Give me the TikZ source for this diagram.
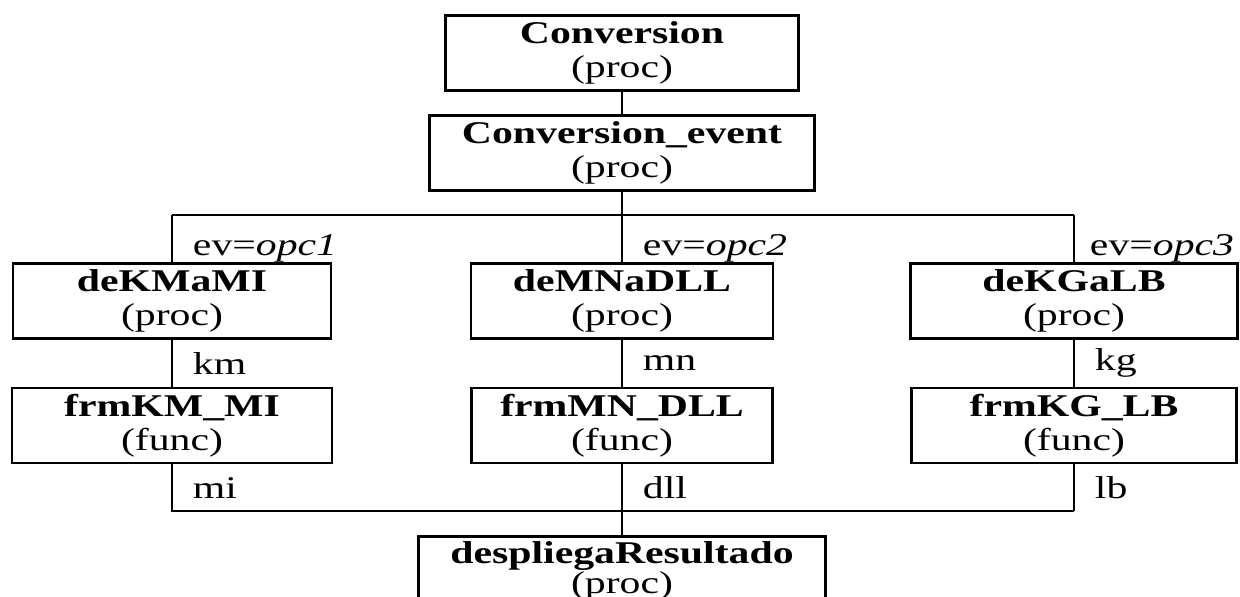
\documentclass[tikz,border=0pt]{standalone}
\usepackage{fontspec}
\setmainfont{Liberation Serif}[FakeStretch=1.32]
\usepackage{tikz}
\usetikzlibrary{positioning}
\tikzset{
    procbox/.style={
        rectangle, draw=black, line width=1.6pt,
        minimum width=#1, minimum height=1.5cm, inner sep=0pt,
        font=\fontsize{18}{19.5}\selectfont, align=center
    },
    procbox/.default=6.4cm,
    wire/.style={
        line width=1.1pt, color=black
    },
    lbl/.style={
        anchor=west, inner sep=0pt, xshift=0.4cm,
        font=\fontsize{18}{19.5}\selectfont
    },
}

\begin{document}
\begin{tikzpicture}

    \useasboundingbox (0,0) rectangle (24.8,-11.92);
    \clip (0,0) rectangle (24.8,-11.92);

    % Top: main procedures
    \node[procbox=7.06cm] (conv) at (12.44,-1.06) {\textbf{Conversion}\\(proc)};
    \node[procbox=7.7cm, below=0.44cm of conv] (convev) {\textbf{Conversion\_event}\\(proc)};

    % Middle column
    \node[procbox=6.04cm, below=1.4cm of convev] (demn) {\textbf{deMNaDLL}\\(proc)};
    \node[procbox=6.02cm, below=0.94cm of demn] (frmmn) {\textbf{frmMN\_DLL}\\(func)};

    % Left column
    \node[procbox=6.36cm] (dekm) at ([xshift=-9cm]demn) {\textbf{deKMaMI}\\(proc)};
    \node[procbox=6.4cm] (frmkm) at ([xshift=-9cm]frmmn) {\textbf{frmKM\_MI}\\(func)};

    % Right column
    \node[procbox=6.54cm] (dekg) at ([xshift=9.04cm]demn) {\textbf{deKGaLB}\\(proc)};
    \node[procbox=6.5cm] (frmkg) at ([xshift=9.04cm]frmmn) {\textbf{frmKG\_LB}\\(func)};

    % Bottom: result (text sits a little high, box runs off the page)
    \node[procbox=8.14cm, below=1.42cm of frmmn, font=\fontsize{18}{17}\selectfont, text depth=0.27cm] (desp) {\textbf{despliegaResultado}\\(proc)};

    % Split and merge points
    \coordinate (split) at ([yshift=-0.46cm]convev.south);
    \coordinate (merge) at ([yshift=-0.94cm]frmmn.south);

    % Top chain and event split
    \draw[wire] (conv) -- (convev);
    \draw[wire] (convev) -- (split);
    \draw[wire] (dekm.north |- split) -- (dekg.north |- split);
    \draw[wire] (dekm.north |- split) -- node[lbl, pos=0.72] {ev=\textit{opc1}} (dekm.north);
    \draw[wire] (split) -- node[lbl, pos=0.72] {ev=\textit{opc2}} (demn.north);
    \draw[wire] (dekg.north |- split) -- node[lbl, pos=0.72, xshift=-0.1cm] {ev=\textit{opc3}} (dekg.north);

    % Procedures to functions
    \draw[wire] (dekm) -- node[lbl] {km} (frmkm);
    \draw[wire] (demn) -- node[lbl] {mn} (frmmn);
    \draw[wire] (dekg) -- node[lbl] {kg} (frmkg);

    % Results merge
    \draw[wire] (frmkm.south) -- node[lbl] {mi} (frmkm.south |- merge) -- (frmkg.south |- merge);
    \draw[wire] (frmkg.south) -- node[lbl] {lb} (frmkg.south |- merge);
    \draw[wire] (frmmn.south) -- node[lbl] {dll} (merge) -- (desp.north);

\end{tikzpicture}
\end{document}
